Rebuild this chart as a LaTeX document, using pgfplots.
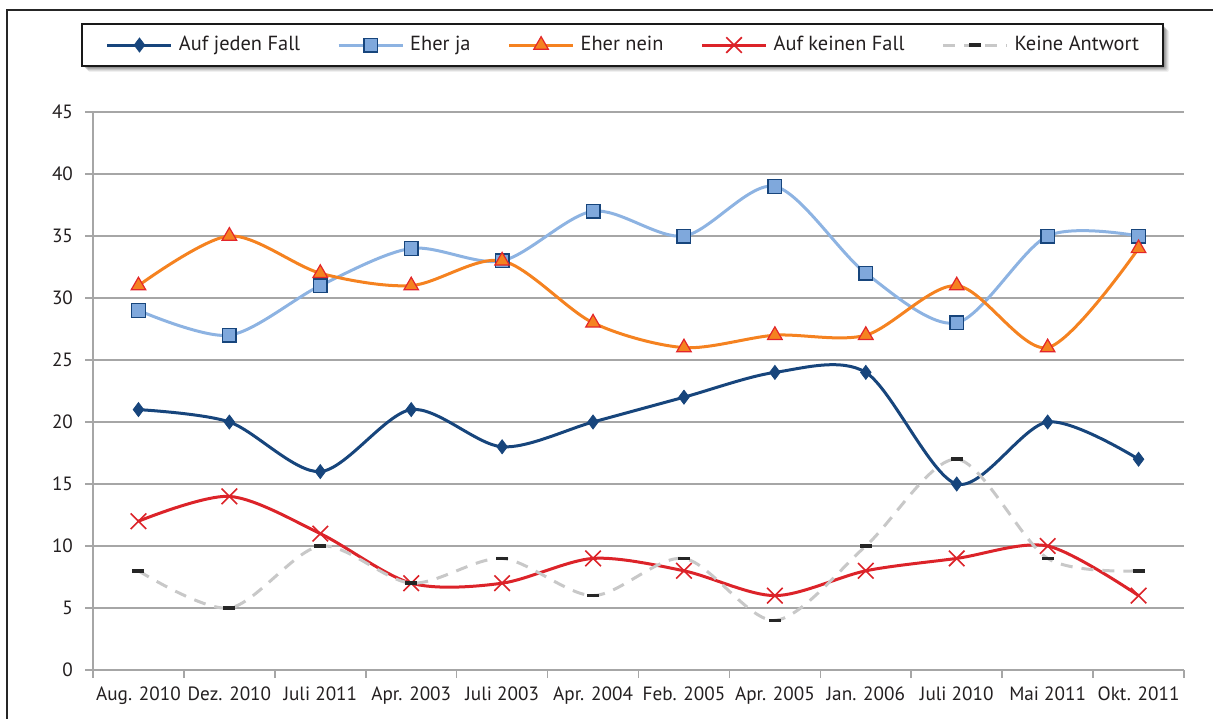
\documentclass[border=0pt]{standalone}
\usepackage{fontspec}
\setmainfont{PT Sans}
\usepackage{pgfplots}
\pgfplotsset{compat=1.18}
\definecolor{c1}{HTML}{17457C}
\definecolor{c2}{HTML}{8DB3E2}
\definecolor{c2f}{HTML}{7FA8DC}
\definecolor{c3}{HTML}{F58220}
\definecolor{c3e}{HTML}{E3262A}
\definecolor{c4}{HTML}{DC2329}
\definecolor{c5}{HTML}{C8C8C8}
\definecolor{gridc}{HTML}{A6A6A6}
\definecolor{txt}{HTML}{231F20}
\begin{document}
\begin{tikzpicture}
\useasboundingbox (0,0) rectangle (606.5pt,359pt);
\draw[line width=0.6pt, black!85] (3.5pt,-2pt) -- (3.5pt,354pt) -- (610pt,354pt);
% legend frame with soft shadow
\foreach \i/\o in {3.0/0.06,2.5/0.08,2.0/0.10,1.5/0.12,1.0/0.14}{
  \fill[black, opacity=\o, rounded corners=1pt] (41pt+\i pt,326pt-\i pt) rectangle (581.5pt+\i pt,347pt-\i pt);
}
\fill[white] (41pt,326pt) rectangle (581.5pt,347pt);
\draw[black!90, line width=0.9pt] (41pt,326pt) rectangle (581.5pt,347pt);
\begin{axis}[
  at={(46.5pt,24pt)}, anchor=south west, scale only axis,
  width=545.5pt, height=279pt,
  xmin=-0.5, xmax=11.5, ymin=0, ymax=45,
  axis x line=bottom, axis y line=left,
  axis line style={gridc, line width=0.8pt, -},
  ytick={0,5,...,45},
  ymajorgrids, grid style={gridc, line width=0.8pt},
  xtick={-0.5,0.5,...,11.5},
  xticklabels={Aug. 2010,Dez. 2010,Juli 2011,Apr. 2003,Juli 2003,Apr. 2004,Feb. 2005,Apr. 2005,Jan. 2006,Juli 2010,Mai 2011,Okt. 2011,{}},
  xticklabel style={xshift=22.75pt, yshift=-1pt, font=\fontsize{9.6}{11}\selectfont, text=txt, anchor=north},
  yticklabel style={xshift=-2.5pt, font=\fontsize{9.6}{11}\selectfont, text=txt, /pgf/number format/assume math mode=true},
  tick align=outside, major tick length=4pt,
  tick style={gridc, line width=0.8pt},
  legend columns=5,
  legend style={at={(0.4853,1.120)}, anchor=center, draw=none, fill=none,
    font=\fontsize{10.2}{12}\selectfont, text=txt, inner sep=0pt,
    nodes={inner xsep=0pt, inner ysep=1pt},
    /tikz/every even column/.append style={column sep=18.5pt},
    /tikz/every odd column/.append style={column sep=3pt}},
  legend image code/.code={\draw[mark repeat=2,mark phase=2] plot coordinates {(0pt,0pt) (16pt,0pt) (32pt,0pt)};},
]
\addplot[smooth, c1, line width=1.5pt, mark=diamond*, mark size=3.5pt, mark options={fill=c1, draw=c1, line width=0.4pt}]
 coordinates {(0,21)(1,20)(2,16)(3,21)(4,18)(5,20)(6,22)(7,24)(8,24)(9,15)(10,20)(11,17)};
\addlegendentry{Auf jeden Fall}
\addplot[smooth, c2, line width=1.5pt, mark=square*, mark size=3.4pt, mark options={fill=c2f, draw=c1, line width=0.7pt}]
 coordinates {(0,29)(1,27)(2,31)(3,34)(4,33)(5,37)(6,35)(7,39)(8,32)(9,28)(10,35)(11,35)};
\addlegendentry{Eher ja}
\addplot[smooth, c3, line width=1.5pt, mark=triangle*, mark size=4.2pt, mark options={fill=c3, draw=c3e, line width=0.6pt}]
 coordinates {(0,31)(1,35)(2,32)(3,31)(4,33)(5,28)(6,26)(7,27)(8,27)(9,31)(10,26)(11,34)};
\addlegendentry{Eher nein}
\addplot[smooth, c4, line width=1.5pt, mark=x, mark size=5.5pt, mark options={draw=c4, line width=0.8pt}]
 coordinates {(0,12)(1,14)(2,11)(3,7)(4,7)(5,9)(6,8)(7,6)(8,8)(9,9)(10,10)(11,6)};
\addlegendentry{Auf keinen Fall}
\addplot[smooth, c5, line width=1.5pt, dash pattern=on 6pt off 4.5pt, mark=-, mark size=3pt, mark options={draw=black!85, line width=1.8pt, solid}]
 coordinates {(0,8)(1,5)(2,10)(3,7)(4,9)(5,6)(6,9)(7,4)(8,10)(9,17)(10,9)(11,8)};
\addlegendentry{Keine Antwort}
\end{axis}
\end{tikzpicture}
\end{document}
